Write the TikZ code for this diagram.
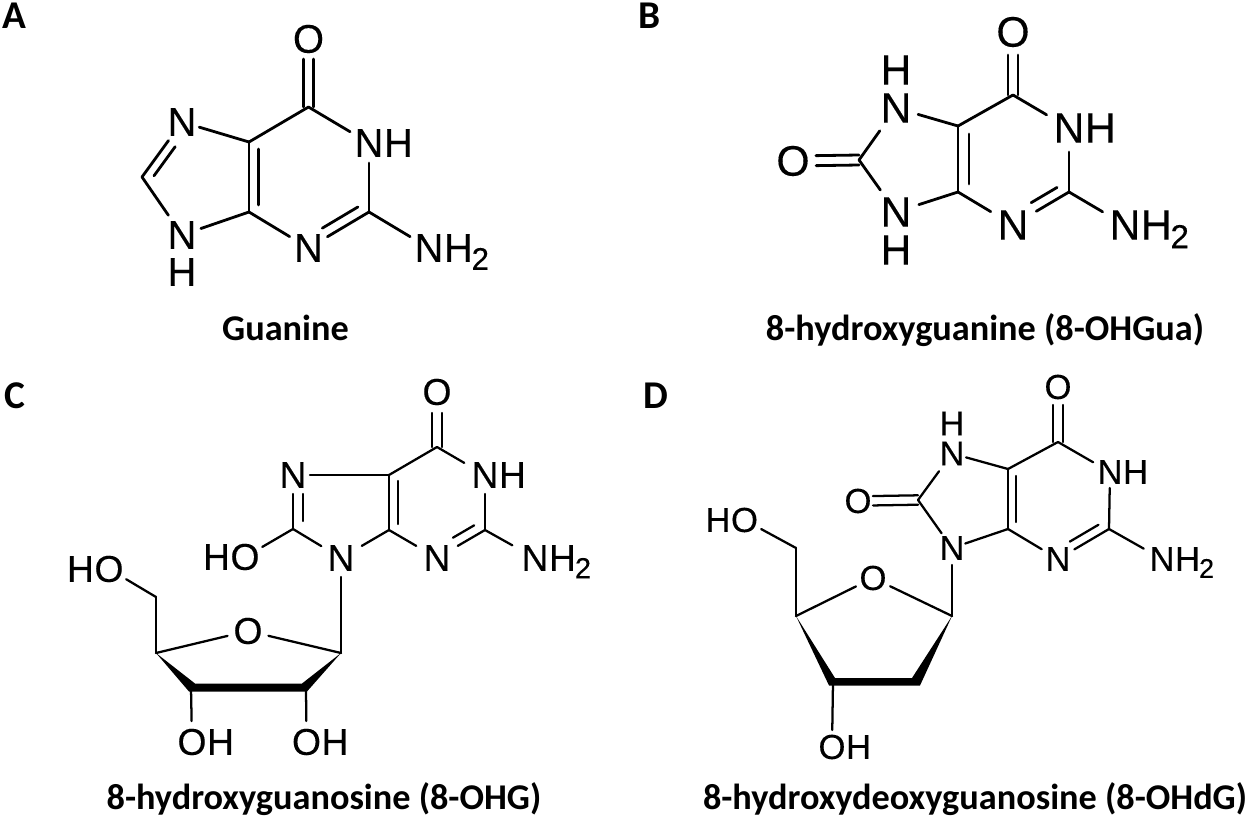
\documentclass[tikz,border=0pt]{standalone}
\usepackage{fontspec}
\usepackage{graphicx}
\setmainfont[FakeBold=0.25]{Liberation Sans}
\newfontfamily\lab{Carlito}
\usetikzlibrary{calc}
\newcommand\bnd[5]{\draw[bondline] ($(#1)!#3*0.75pt!(#2)!#5*0.75pt!90:(#2)$) -- ($(#2)!#4*0.75pt!(#1)!#5*0.75pt!-90:(#1)$);}
\newcommand\subtwo{\kern-.03em\raisebox{-.2em}{\scalebox{.78}{2}}}
\tikzset{
  atomA/.style={font=\fontsize{30}{30}\selectfont,inner sep=0pt},
  atomB/.style={font=\fontsize{32}{32}\selectfont,inner sep=0pt},
  atomC/.style={font=\fontsize{28}{28}\selectfont,inner sep=0pt},
  atomD/.style={font=\fontsize{26}{26}\selectfont,inner sep=0pt},
  caption/.style={font=\lab\bfseries\fontsize{27.2}{27.2}\selectfont,inner sep=0pt,anchor=base},
  panel/.style={font=\lab\bfseries\fontsize{29.5}{29.5}\selectfont,inner sep=0pt},
  bondline/.style={line width=2.1pt,line cap=round,line join=round,black},
}
\begin{document}
\begin{tikzpicture}[x=0.75pt,y=-0.75pt]
\useasboundingbox (0,0) rectangle (1252,820);
\fill[white] (0,0) rectangle (1252,820);
% ---------- labels
\node[panel] (pa) at (14,16) {A};
\node[panel] (pb) at (650,16) {B};
\node[panel] (pc) at (14.5,396) {C};
\node[panel] (pd) at (656,396) {D};
\node[caption] (ca) at (285.5,340) {Guanine};
\node[caption] (cb) at (985,340) {8-hydroxyguanine (8-OHGua)};
\node[caption] (cc) at (324,809.5) {8-hydroxyguanosine (8-OHG)};
\node[caption] (cd) at (975,809.5) {8-hydroxydeoxyguanosine (8-OHdG)};
% ---------- A
\begin{scope}[every node/.style={atomA}]
\node (ao) at (308.5,39) {O};
\coordinate (ac6) at (308.5,107);
\coordinate (ac5) at (249,142);
\coordinate (ac4) at (249,212);
\node (an3) at (308.5,248) {N};
\coordinate (ac2) at (369,212);
\node (an1) at (369,143) {N};
\node[anchor=base west] (an1h) at (an1.base east) {H};
\node (an7) at (182,122) {N};
\coordinate (ac8) at (142,177);
\node (an9) at (182,235) {N};
\node (an9h) at (182,272) {H};
\node (ann) at (429,248) {N};
\node[anchor=base west] (annh) at (ann.base east) {H\subtwo};
\end{scope}
\bnd{ac6}{ao}{0}{20}{5}
\bnd{ac6}{ao}{0}{20}{-5}
\bnd{ac6}{ac5}{0}{0}{0}
\bnd{ac6}{an1}{0}{22}{0}
\bnd{ac5}{ac4}{0}{0}{0}
\bnd{ac5}{ac4}{7}{7}{9.5}
\bnd{ac4}{an3}{0}{22}{0}
\bnd{an3}{ac2}{22}{0}{0}
\bnd{an3}{ac2}{22}{7}{10}
\bnd{ac2}{an1}{0}{20}{0}
\bnd{ac2}{ann}{0}{22}{0}
\bnd{ac5}{an7}{0}{18}{0}
\bnd{an7}{ac8}{23}{0}{0}
\bnd{an7}{ac8}{24}{8}{9}
\bnd{ac8}{an9}{0}{24}{0}
\bnd{ac4}{an9}{0}{20}{0}
% ---------- B
\begin{scope}[every node/.style={atomB}]
\node (bo) at (1013,32) {O};
\coordinate (bc6) at (1013,95);
\coordinate (bc5) at (958,126);
\coordinate (bc4) at (958,192);
\node (bn1) at (1069,128) {N};
\node[anchor=base west] (bn1h) at (bn1.base east) {H};
\coordinate (bc2) at (1069,192);
\node (bn3) at (1013,225) {N};
\node (bnn) at (1125,225) {N};
\node[anchor=base west] (bnnh) at (bnn.base east) {H\subtwo};
\node (bn7) at (896,108) {N};
\node (bn7h) at (896,70) {H};
\node (bn9) at (896,212) {N};
\node (bn9h) at (896,250) {H};
\coordinate (bc8) at (859,160);
\node (boo) at (793,161) {O};
\end{scope}
\bnd{bc6}{bo}{0}{23}{5}
\bnd{bc6}{bo}{0}{23}{-5}
\bnd{bc6}{bc5}{0}{0}{0}
\bnd{bc6}{bn1}{0}{26}{0}
\bnd{bc5}{bc4}{0}{0}{0}
\bnd{bc5}{bc4}{8}{8}{11}
\bnd{bc4}{bn3}{0}{26}{0}
\bnd{bn3}{bc2}{27}{0}{0}
\bnd{bn3}{bc2}{27}{8}{10}
\bnd{bc2}{bn1}{0}{24}{0}
\bnd{bc2}{bnn}{0}{26}{0}
\bnd{bc5}{bn7}{0}{23}{0}
\bnd{bn7}{bc8}{28}{0}{0}
\bnd{bn9}{bc8}{27}{0}{0}
\bnd{bc4}{bn9}{0}{24}{0}
\bnd{bc8}{boo}{0}{23}{5}
\bnd{bc8}{boo}{0}{23}{-5}
% ---------- C
\begin{scope}[every node/.style={atomC}]
\node (co) at (437,392) {O};
\coordinate (cc6) at (437,447);
\coordinate (cc5) at (389,475);
\coordinate (cc4) at (389,530);
\node (cn1) at (485,475) {N};
\node[anchor=base west] (cn1h) at (cn1.base east) {H};
\coordinate (cc2) at (485,530);
\node (cn3) at (437,558) {N};
\node (cnn) at (535,558) {N};
\node[anchor=base west] (cnnh) at (cnn.base east) {H\subtwo};
\node (cn7) at (293,475) {N};
\coordinate (cc8) at (293,529);
\node (cn9) at (341,558) {N};
\node (choa) at (245,557) {O};
\node[anchor=base east] (chob) at (choa.base west) {H};
\coordinate (cc1) at (341,653);
\coordinate (cc4p) at (156,653);
\node (cor) at (248,631) {O};
\coordinate (cc5p) at (156,597);
\node (choc) at (109,569) {O};
\node[anchor=base east] (chod) at (choc.base west) {H};
\coordinate (cc3) at (191,688);
\coordinate (cc2p) at (306,688);
\node (cohl) at (192,742) {O};
\node[anchor=base west] (cohlh) at (cohl.base east) {H};
\node (cohr) at (306.5,742) {O};
\node[anchor=base west] (cohrh) at (cohr.base east) {H};
\end{scope}
\begin{scope}[bondline/.append style={line width=1.7pt}]
\bnd{cc6}{co}{0}{21}{5}
\bnd{cc6}{co}{0}{21}{-5}
\bnd{cc6}{cc5}{0}{0}{0}
\bnd{cc6}{cn1}{0}{24}{0}
\bnd{cc5}{cc4}{0}{0}{0}
\bnd{cc5}{cc4}{6}{6}{9}
\bnd{cc4}{cn3}{0}{24}{0}
\bnd{cn3}{cc2}{24}{0}{0}
\bnd{cn3}{cc2}{24}{7}{9.5}
\bnd{cc2}{cn1}{0}{19}{0}
\bnd{cc2}{cnn}{0}{26}{0}
\bnd{cc5}{cn7}{0}{17}{0}
\bnd{cn7}{cc8}{19}{0}{0}
\bnd{cn7}{cc8}{19}{8}{10}
\bnd{cc8}{cn9}{0}{23}{0}
\bnd{cc4}{cn9}{0}{24}{0}
\bnd{cc8}{choa}{0}{20}{0}
\bnd{cn9}{cc1}{19}{0}{0}
\bnd{cc1}{cor}{0}{21}{0}
\bnd{cc4p}{cor}{0}{21}{0}
\bnd{cc4p}{cc5p}{0}{0}{0}
\bnd{cc5p}{choc}{0}{20}{0}
\bnd{cc3}{cohl}{0}{21}{0}
\bnd{cc2p}{cohr}{0}{21}{0}
\end{scope}
\fill (cc4p) -- (195,683.5) -- (302,683.5) -- (cc1) -- (307,691.5) -- (189,691.5) -- cycle;
% ---------- D
\begin{scope}[every node/.style={atomD}]
\node (do) at (1058,387) {O};
\coordinate (dc6) at (1058,442);
\coordinate (dc5) at (1008,469);
\coordinate (dc4) at (1008,529);
\node (dn1) at (1110,472) {N};
\node[anchor=base west] (dn1h) at (dn1.base east) {H};
\coordinate (dc2) at (1109,529);
\node (dn3) at (1058,559) {N};
\node (dnn) at (1162,559) {N};
\node[anchor=base west] (dnnh) at (dnn.base east) {H\subtwo};
\node (dn7) at (952,453.5) {N};
\node (dn7h) at (952,423.5) {H};
\node (dn9) at (952,548) {N};
\coordinate (dc8) at (918,500);
\node (doo) at (858,501) {O};
\coordinate (dc1) at (952,616);
\coordinate (dc4p) at (796,616);
\coordinate (dc5p) at (796,548);
\node (dhoa) at (744.5,520) {O};
\node[anchor=base east] (dhob) at (dhoa.base west) {H};
\node (dor) at (873,578) {O};
\coordinate (dc3) at (833,682);
\node (doh) at (832,747) {O};
\node[anchor=base west] (dohh) at (doh.base east) {H};
\end{scope}
\begin{scope}[bondline/.append style={line width=1.7pt}]
\bnd{dc6}{do}{0}{18}{4.7}
\bnd{dc6}{do}{0}{18}{-4.7}
\bnd{dc6}{dc5}{0}{0}{0}
\bnd{dc6}{dn1}{0}{19.5}{0}
\bnd{dc5}{dc4}{0}{0}{0}
\bnd{dc5}{dc4}{7}{7}{8}
\bnd{dc4}{dn3}{0}{19}{0}
\bnd{dn3}{dc2}{19}{0}{0}
\bnd{dn3}{dc2}{19}{7}{9}
\bnd{dc2}{dn1}{0}{16}{0}
\bnd{dc2}{dnn}{0}{21}{0}
\bnd{dc5}{dn7}{0}{14.6}{0}
\bnd{dn7}{dc8}{22}{0}{0}
\bnd{dn9}{dc8}{18}{0}{0}
\bnd{dc4}{dn9}{0}{14}{0}
\bnd{dc8}{doo}{0}{15}{4.7}
\bnd{dc8}{doo}{0}{15}{-4.7}
\bnd{dn9}{dc1}{17}{0}{0}
\bnd{dc1}{dor}{0}{19}{0}
\bnd{dc4p}{dor}{0}{19}{0}
\bnd{dc4p}{dc5p}{0}{0}{0}
\bnd{dc5p}{dhoa}{0}{19}{0}
\bnd{dc3}{doh}{0}{17}{0}
\end{scope}
\fill (dc4p) -- (835,678) -- (912,678) -- (dc1) -- (920,685.5) -- (829,685.5) -- cycle;
\end{tikzpicture}
\end{document}
